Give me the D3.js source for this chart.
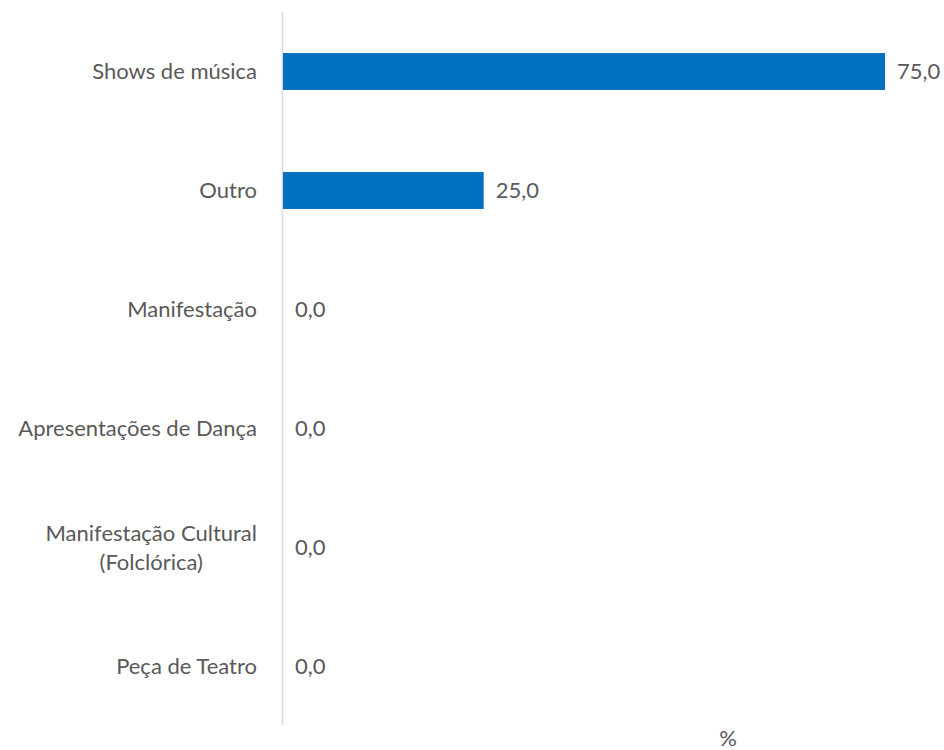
<!DOCTYPE html>
<html><head><meta charset="utf-8">
<script src="https://cdn.jsdelivr.net/npm/d3@7"></script>
<style>body{margin:0;background:#fff}svg{display:block}text{font-family:Lato,sans-serif;fill:#595959}</style>
</head><body>
<svg id="c" width="944" height="750"></svg>
<script>
const categories = ["Shows de música","Outro","Manifestação","Apresentações de Dança","Manifestação Cultural (Folclórica)","Peça de Teatro"];
const labelLines = [["Shows de música"],["Outro"],["Manifestação"],["Apresentações de Dança"],["Manifestação Cultural","(Folclórica)"],["Peça de Teatro"]];
const values = [75.0,25.0,0.0,0.0,0.0,0.0];
const axisTitle = "%";

const svg = d3.select("#c");
const x0 = 282, fs = 22;
const x = d3.scaleLinear().domain([0,80]).range([x0, x0 + 80*602/75]);
const y = d3.scaleBand().domain(categories).range([12, 726]).paddingInner(0.69).paddingOuter(0.345);

svg.append("line").attr("x1",x0+0.5).attr("x2",x0+0.5).attr("y1",12).attr("y2",725)
  .attr("stroke","#d9d9d9").attr("stroke-width",1.5);

svg.selectAll("rect.bar").data(values).enter().append("rect")
  .attr("x", x(0)+1).attr("y",(d,i)=>y(categories[i]))
  .attr("width",d=>Math.max(0,x(d)-x(0))).attr("height",y.bandwidth())
  .attr("fill","#0070C0");

svg.selectAll("text.val").data(values).enter().append("text")
  .attr("x",d=>x(d)+13).attr("y",(d,i)=>y(categories[i])+y.bandwidth()/2)
  .attr("dy","0.35em").attr("font-size",fs)
  .text(d=>d.toFixed(1).replace(".",","));

labelLines.forEach((lines,i)=>{
  const cy = y(categories[i])+y.bandwidth()/2;
  const lh = 29;
  const g = svg.append("text").attr("font-size",fs);
  if(lines.length===1){
    g.attr("x",x0-25).attr("y",cy).attr("dy","0.35em").attr("text-anchor","end").text(lines[0]);
  } else {
    const tmp = svg.append("text").attr("font-size",fs).text(lines[0]);
    const w = tmp.node().getComputedTextLength(); tmp.remove();
    const cx = x0-25-w/2;
    g.attr("text-anchor","middle");
    lines.forEach((l,k)=>{
      g.append("tspan").attr("x",cx).attr("y",cy+(k-(lines.length-1)/2)*lh).attr("dy","0.35em").text(l);
    });
  }
});

svg.append("text").attr("x",728).attr("y",746).attr("text-anchor","middle")
  .attr("font-size",fs).text(axisTitle);
</script>
</body></html>
